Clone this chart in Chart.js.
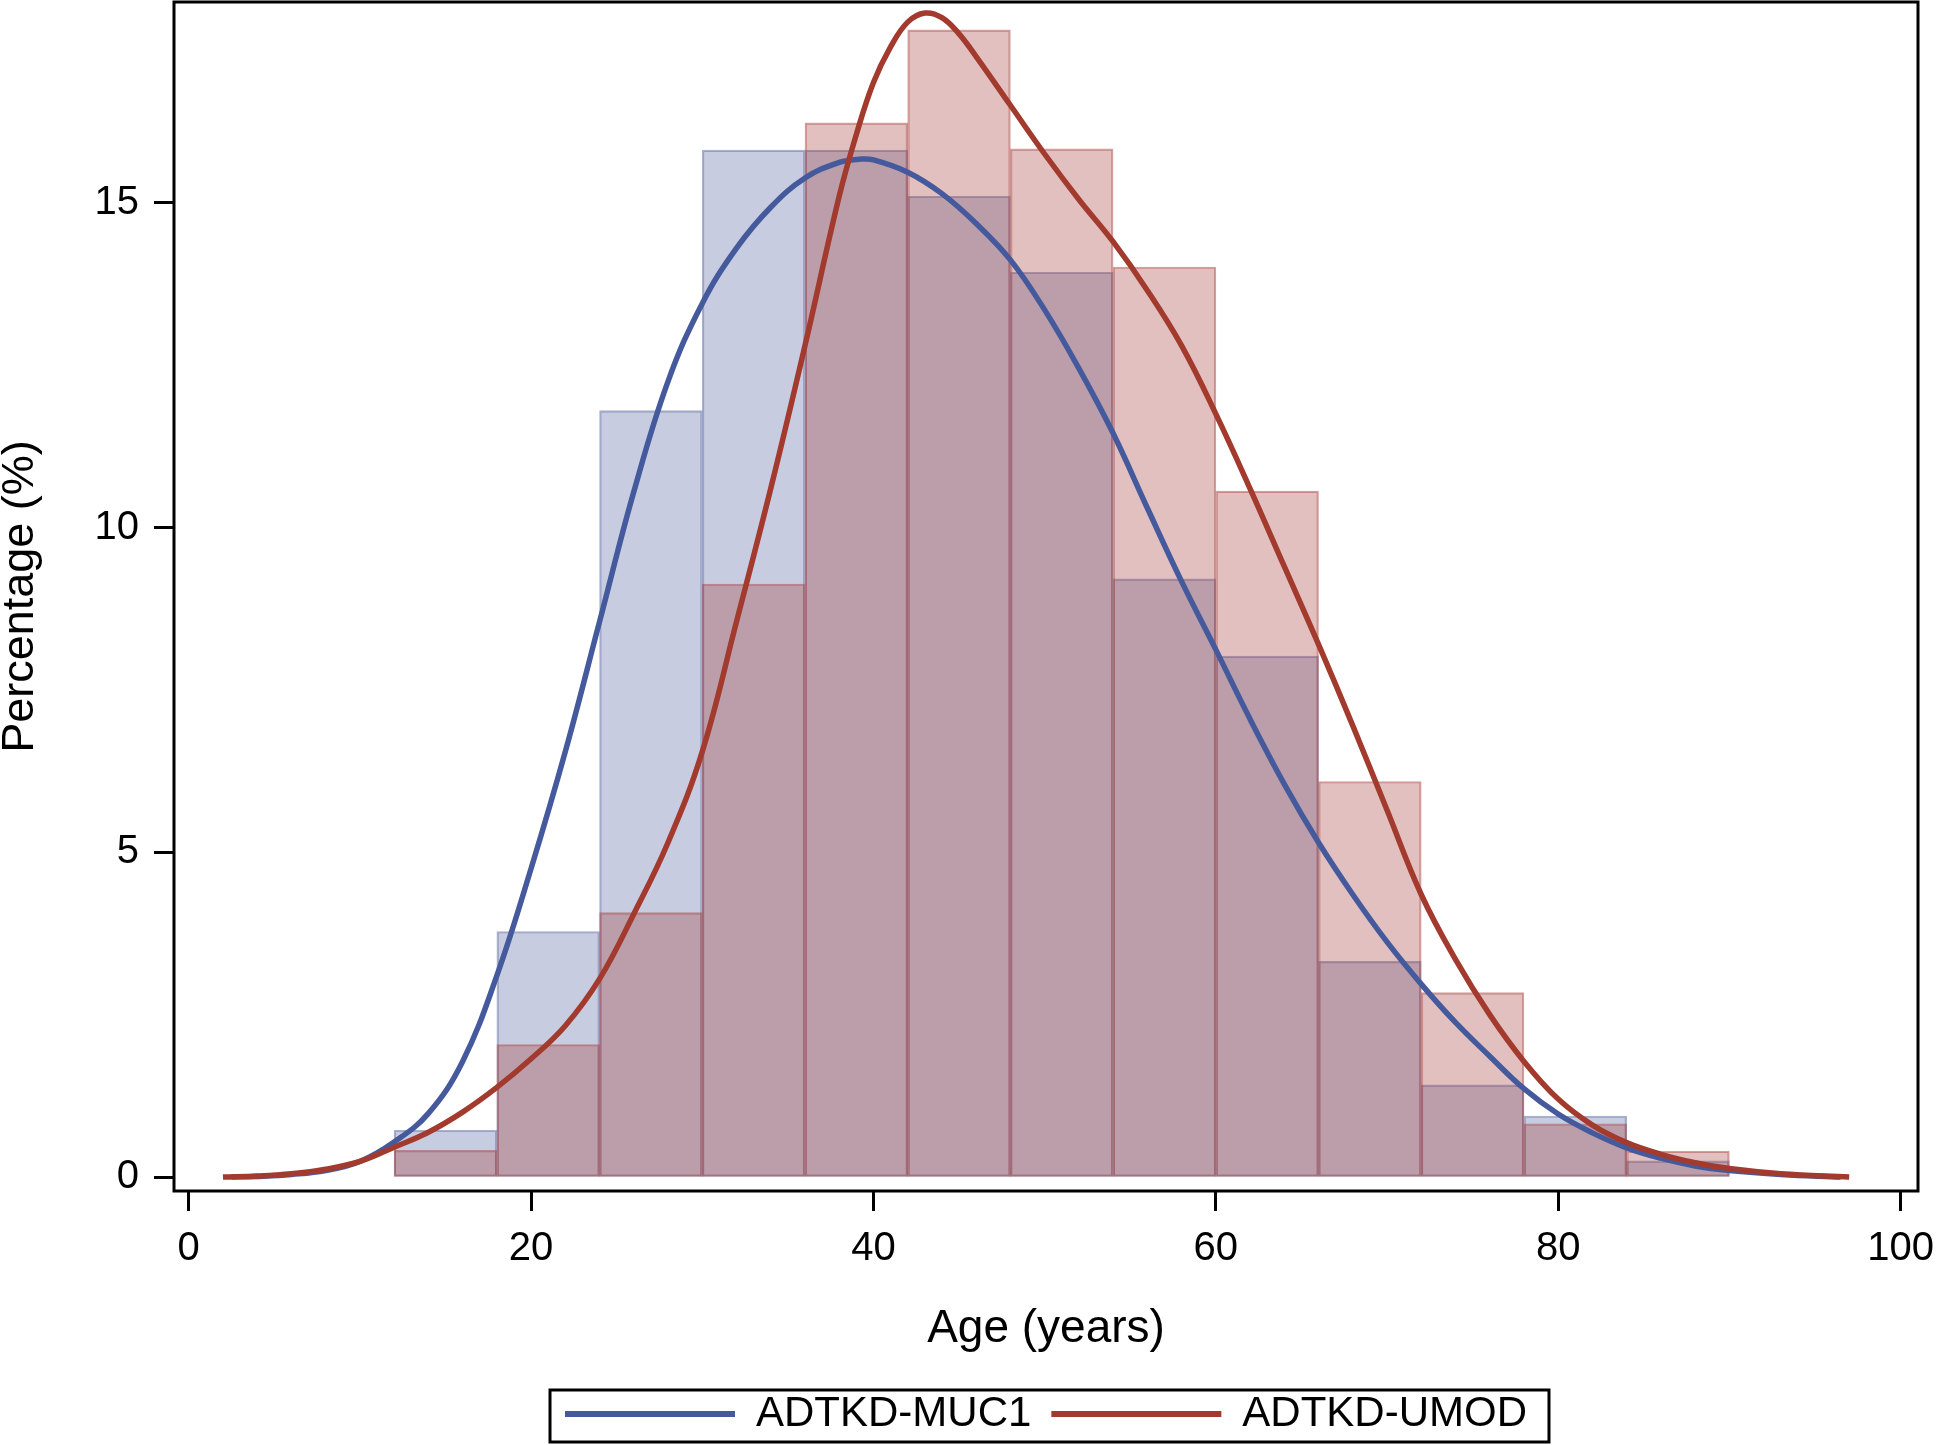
<!DOCTYPE html>
<html>
<head>
<meta charset="utf-8">
<script src="https://cdn.jsdelivr.net/npm/chart.js@4.4.1/dist/chart.umd.min.js"></script>
<style>
  html, body { margin: 0; padding: 0; background: #fff; }
  #wrap { width: 1936px; height: 1445px; }
</style>
</head>
<body>
<div id="wrap"><canvas id="ageChart" width="1936" height="1445"></canvas></div>
<script>
// histogram bins (years) and bar heights (%)
const binEdges = [12, 18, 24, 30, 36, 42, 48, 54, 60, 66, 72, 78, 84, 90];
const muc1Pct = [0.72, 3.78, 11.80, 15.81, 15.81, 15.10, 13.93, 9.21, 8.02, 3.32, 1.42, 0.94, 0.25];
const umodPct = [0.41, 2.04, 4.07, 9.13, 16.23, 17.66, 15.83, 14.01, 10.56, 6.09, 2.84, 0.82, 0.40];

// density curves
const muc1CurveAge = [2.5, 4, 6, 8, 10, 12, 14, 16, 18, 20, 22, 24, 26, 28, 30, 32, 34, 36, 38, 39.2,
  40, 42, 44, 46, 48, 50, 52, 54, 56, 58, 60, 62, 64, 66, 68, 70, 72, 74, 76, 78, 80, 82, 84, 86, 88, 90, 93, 96.5];
const muc1CurveVal = [0.00, 0.01, 0.04, 0.10, 0.24, 0.54, 0.98, 1.78, 3.10, 4.75, 6.55, 8.55, 10.55, 12.25, 13.45,
  14.30, 14.93, 15.38, 15.62, 15.67, 15.66, 15.47, 15.14, 14.68, 14.12, 13.35, 12.45, 11.45, 10.30, 9.17, 8.12,
  7.05, 6.05, 5.15, 4.35, 3.62, 2.97, 2.38, 1.86, 1.36, 0.97, 0.68, 0.45, 0.29, 0.17, 0.10, 0.04, 0.00];
const umodCurveAge = [2, 4, 6, 8, 10, 12, 14, 16, 18, 20, 22, 24, 26, 28, 30, 32, 34, 36, 38, 39, 40, 41, 42,
  43, 44, 45, 46, 48, 50, 52, 54, 56, 58, 60, 62, 64, 66, 68, 70, 72, 74, 76, 78, 80, 82, 84, 86, 88, 90, 93, 97];
const umodCurveVal = [0.00, 0.015, 0.05, 0.12, 0.24, 0.46, 0.69, 1.00, 1.38, 1.82, 2.33, 3.05, 4.05, 5.15, 6.55,
  8.55, 10.60, 12.80, 15.10, 16.05, 16.85, 17.40, 17.78, 17.92, 17.85, 17.60, 17.25, 16.50, 15.75, 15.05, 14.40,
  13.65, 12.80, 11.75, 10.60, 9.40, 8.20, 6.95, 5.65, 4.35, 3.35, 2.50, 1.78, 1.20, 0.80, 0.53, 0.35, 0.22, 0.13,
  0.05, 0.00];

const xTickValues = [0, 20, 40, 60, 80, 100];
const yTickValues = [0, 5, 10, 15];
const seriesNames = ['ADTKD-MUC1', 'ADTKD-UMOD'];

const FONT = '"Liberation Sans", Arial, Helvetica, sans-serif';
const BLUE = '#455A9C';
const RED = '#A33A2E';

Chart.defaults.font.family = FONT;
Chart.defaults.color = '#000';

const toBars = pct => pct.map((v, i) => ({ x: (binEdges[i] + binEdges[i + 1]) / 2, y: v }));
const toCurve = (ages, vals) => ages.map((a, i) => ({ x: a, y: vals[i] }));

// plot frame + box round the legend
const frameBox = {
  id: 'frameBox',
  afterDraw(chart) {
    const { ctx, chartArea: a, legend } = chart;
    ctx.save();
    ctx.strokeStyle = '#000';
    ctx.lineWidth = 3;
    ctx.strokeRect(a.left, a.top, a.right - a.left, a.bottom - a.top);
    const hb = legend.legendHitBoxes;
    if (hb && hb.length) {
      const l = Math.min(...hb.map(b => b.left)) - 15;
      const r = Math.max(...hb.map(b => b.left + b.width)) + 22;
      const t = Math.min(...hb.map(b => b.top)) - 3;
      const bt = Math.max(...hb.map(b => b.top + b.height)) + 7;
      ctx.strokeRect(l, t, r - l, bt - t);
    }
    ctx.restore();
  }
};

const ctx = document.getElementById('ageChart').getContext('2d');
new Chart(ctx, {
  type: 'bar',
  data: {
    datasets: [
      {
        type: 'line', label: seriesNames[0], data: toCurve(muc1CurveAge, muc1CurveVal),
        borderColor: BLUE, borderWidth: 5.5, pointRadius: 0, fill: false,
        tension: 0.4, order: 1
      },
      {
        type: 'line', label: seriesNames[1], data: toCurve(umodCurveAge, umodCurveVal),
        borderColor: RED, borderWidth: 5.5, pointRadius: 0, fill: false,
        tension: 0.4, order: 0
      },
      {
        type: 'bar', label: seriesNames[0] + ' %', data: toBars(muc1Pct),
        backgroundColor: 'rgba(84,100,160,0.33)', borderColor: 'rgba(84,100,160,0.5)',
        borderWidth: 1.5, borderSkipped: false, grouped: false,
        barPercentage: 1, categoryPercentage: 1, order: 3
      },
      {
        type: 'bar', label: seriesNames[1] + ' %', data: toBars(umodPct),
        backgroundColor: 'rgba(168,65,62,0.33)', borderColor: 'rgba(168,65,62,0.5)',
        borderWidth: 1.5, borderSkipped: false, grouped: false,
        barPercentage: 1, categoryPercentage: 1, order: 2
      }
    ]
  },
  options: {
    responsive: false,
    devicePixelRatio: 1,
    animation: false,
    layout: { padding: { top: 2, right: 0, bottom: 0, left: 0 } },
    plugins: {
      tooltip: { enabled: false },
      legend: {
        position: 'bottom',
        fullSize: false,
        labels: {
          boxWidth: 170,
          boxHeight: 6,
          padding: 20,
          color: '#000',
          font: { family: FONT, size: 42 },
          generateLabels: chart => chart.data.datasets.slice(0, 2).map((ds, i) => ({
            text: ds.label, fillStyle: ds.borderColor, strokeStyle: ds.borderColor,
            lineWidth: 0, hidden: false, datasetIndex: i
          }))
        }
      }
    },
    scales: {
      x: {
        type: 'linear',
        min: -0.86,
        max: 101.02,
        offset: false,
        afterBuildTicks: axis => { axis.ticks = xTickValues.map(v => ({ value: v })); },
        afterFit: scale => {
          scale.height = 182;
          scale.paddingLeft = 0;
          scale.paddingRight = 18;
        },
        grid: { drawOnChartArea: false, offset: false, tickLength: 20, tickWidth: 3, tickColor: '#000' },
        border: { display: false },
        ticks: { padding: 14, maxRotation: 0, color: '#000', font: { family: FONT, size: 40 } },
        title: {
          display: true, text: 'Age (years)', color: '#000',
          font: { family: FONT, size: 46 }, padding: { top: 0, bottom: 16 }
        }
      },
      y: {
        min: -0.215,
        max: 18.09,
        afterBuildTicks: axis => { axis.ticks = yTickValues.map(v => ({ value: v })); },
        afterFit: scale => {
          scale.width = 174;
          scale.paddingTop = 0;
          scale.paddingBottom = 0;
        },
        grid: { drawOnChartArea: false, tickLength: 20, tickWidth: 3, tickColor: '#000' },
        border: { display: false },
        ticks: { padding: 15, color: '#000', font: { family: FONT, size: 40 } },
        title: {
          display: true, text: 'Percentage (%)', color: '#000',
          font: { family: FONT, size: 45, lineHeight: 0.93 }, padding: { top: 0, bottom: 0 }
        }
      }
    }
  },
  plugins: [frameBox]
});
</script>
</body>
</html>
